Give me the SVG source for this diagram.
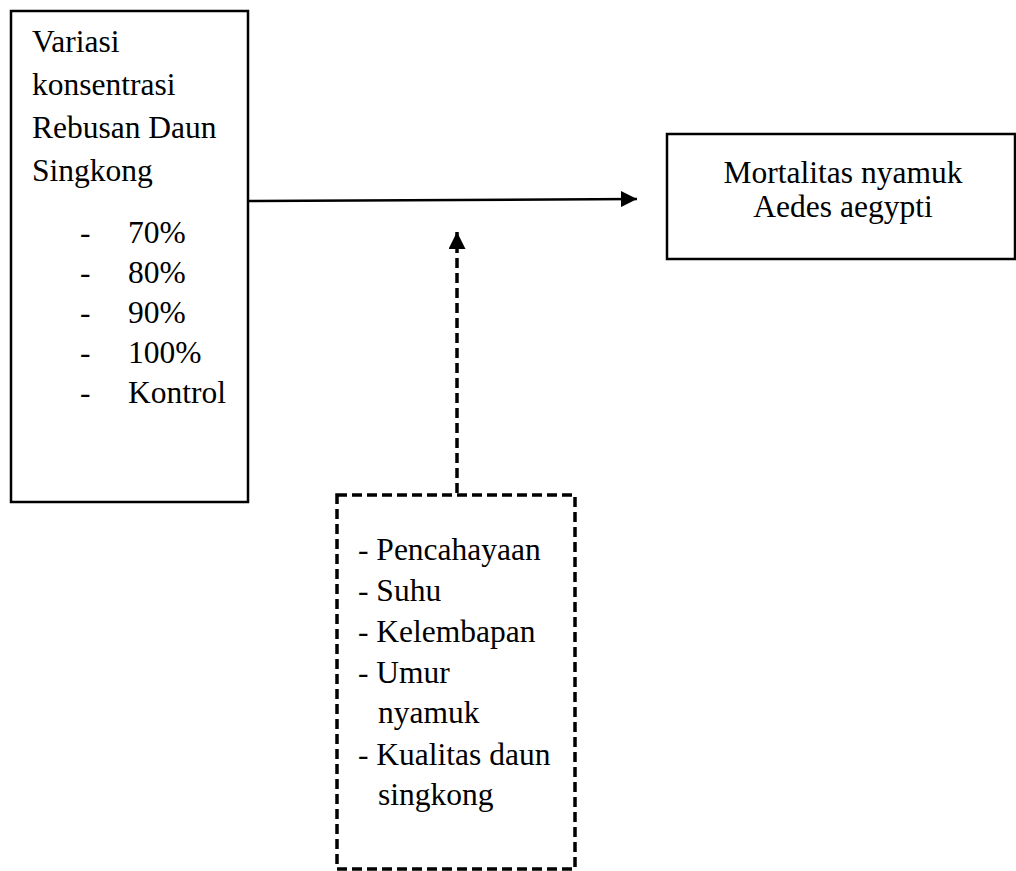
<svg xmlns="http://www.w3.org/2000/svg" width="1016" height="871" viewBox="0 0 1016 871">
<style>
text{font-family:"Liberation Serif","Times New Roman",serif;font-size:31.5px;fill:#000}
.box{fill:#fff;stroke:#000;stroke-width:2.5}
.dash{fill:#fff;stroke:#000;stroke-width:3.5;stroke-dasharray:10 5}
.c{text-anchor:middle}
</style>
<defs>
<marker id="ah" viewBox="0 0 10 10" refX="10" refY="5" markerWidth="16" markerHeight="16" markerUnits="userSpaceOnUse" orient="auto">
<path d="M0,0 L10,5 L0,10 z" fill="#000"/>
</marker>
<marker id="ah2" viewBox="0 0 10 10" refX="10" refY="5" markerWidth="17" markerHeight="17" markerUnits="userSpaceOnUse" orient="auto">
<path d="M0,0 L10,5 L0,10 z" fill="#000"/>
</marker>
</defs>
<g id="node-variasi">
<rect class="box" x="11" y="11" width="237" height="491"/>
<text x="32" y="52">Variasi</text>
<text x="32" y="95">konsentrasi</text>
<text x="32" y="138">Rebusan Daun</text>
<text x="32" y="181">Singkong</text>
<text x="80" y="243">-</text><text x="128" y="243">70%</text>
<text x="80" y="283">-</text><text x="128" y="283">80%</text>
<text x="80" y="323">-</text><text x="128" y="323">90%</text>
<text x="80" y="363">-</text><text x="128" y="363">100%</text>
<text x="80" y="403">-</text><text x="128" y="403">Kontrol</text>
</g>
<g id="node-mortalitas">
<rect class="box" x="667" y="134" width="348" height="125"/>
<text class="c" x="843" y="183">Mortalitas nyamuk</text>
<text class="c" x="843" y="217">Aedes aegypti</text>
</g>
<g id="node-pengganggu">
<rect class="dash" x="337" y="495" width="238" height="374"/>
<text x="358" y="560">- Pencahayaan</text>
<text x="358" y="601">- Suhu</text>
<text x="358" y="642">- Kelembapan</text>
<text x="358" y="683">- Umur</text>
<text x="378" y="723">nyamuk</text>
<text x="358" y="765">- Kualitas daun</text>
<text x="378" y="805">singkong</text>
</g>
<g id="connectors">
<line x1="247" y1="201" x2="637" y2="199" stroke="#000" stroke-width="2.5" marker-end="url(#ah)"/>
<line x1="457" y1="493" x2="457" y2="232" stroke="#000" stroke-width="3.5" stroke-dasharray="10 5" marker-end="url(#ah2)"/>
</g>
</svg>
